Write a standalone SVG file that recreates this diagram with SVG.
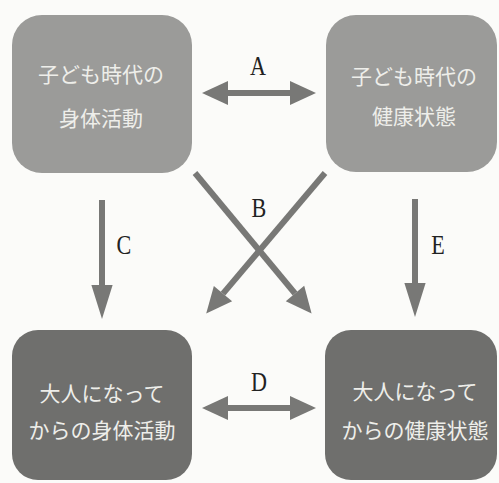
<svg xmlns="http://www.w3.org/2000/svg" width="499" height="483" viewBox="0 0 499 483">
  <defs>
    <style>
      .top rect { fill: #9b9b99; }
      .bot rect { fill: #6f6f6d; }
      .nt { font-family: "Noto Sans CJK JP", "Noto Sans CJK SC", sans-serif; font-size: 21px; fill: #eeeeea; text-anchor: middle; dominant-baseline: central; }
      .lbl { font-family: "Liberation Serif", "DejaVu Serif", serif; font-size: 27px; fill: #222; text-anchor: middle; dominant-baseline: central; }
      .conn line { stroke: #787876; stroke-width: 6; }
    </style>
    <marker id="hv" markerUnits="userSpaceOnUse" markerWidth="34" markerHeight="24" refX="0" refY="10" orient="auto-start-reverse" viewBox="0 0 32 20" overflow="visible">
      <path d="M0,0 L32,10 L0,20 Z" fill="#787876"/>
    </marker>
    <marker id="hh" markerUnits="userSpaceOnUse" markerWidth="26" markerHeight="24" refX="0" refY="11.5" orient="auto-start-reverse" viewBox="0 0 25 23" overflow="visible">
      <path d="M0,0 L25,11.5 L0,23 Z" fill="#787876"/>
    </marker>
  </defs>
  <rect width="499" height="483" fill="#fbfbf9"/>

  <g id="n1" class="top">
    <rect x="12" y="15" width="180" height="158" rx="30"/>
    <text class="nt" x="101" y="73">子ども時代の</text>
    <text class="nt" x="101" y="117">身体活動</text>
  </g>
  <g id="n2" class="top">
    <rect x="326" y="15" width="171" height="157" rx="30"/>
    <text class="nt" x="414" y="75">子ども時代の</text>
    <text class="nt" x="414" y="115">健康状態</text>
  </g>
  <g id="n3" class="bot">
    <rect x="12" y="330" width="180" height="150" rx="26"/>
    <text class="nt" x="102" y="392">大人になって</text>
    <text class="nt" x="102" y="429">からの身体活動</text>
  </g>
  <g id="n4" class="bot">
    <rect x="325" y="330" width="172" height="150" rx="26"/>
    <text class="nt" x="415" y="390">大人になって</text>
    <text class="nt" x="415" y="429">からの健康状態</text>
  </g>

  <g id="connectors" class="conn">
    <line x1="228" y1="93" x2="290" y2="93" marker-start="url(#hh)" marker-end="url(#hh)"/>
    <line x1="228" y1="408" x2="290" y2="408" marker-start="url(#hh)" marker-end="url(#hh)"/>
    <line x1="102" y1="200" x2="102" y2="285" marker-end="url(#hv)"/>
    <line x1="415" y1="199" x2="415" y2="283" marker-end="url(#hv)"/>
    <line x1="195" y1="173" x2="295" y2="293.5" marker-end="url(#hh)"/>
    <line x1="325" y1="173" x2="223" y2="293.6" marker-end="url(#hh)"/>
  </g>

  <g id="labels">
    <text class="lbl" transform="translate(258,66) scale(0.82,1)">A</text>
    <text class="lbl" transform="translate(259,208) scale(0.82,1)">B</text>
    <text class="lbl" transform="translate(124,245) scale(0.82,1)">C</text>
    <text class="lbl" transform="translate(259,382) scale(0.82,1)">D</text>
    <text class="lbl" transform="translate(438,245) scale(0.82,1)">E</text>
  </g>
</svg>
